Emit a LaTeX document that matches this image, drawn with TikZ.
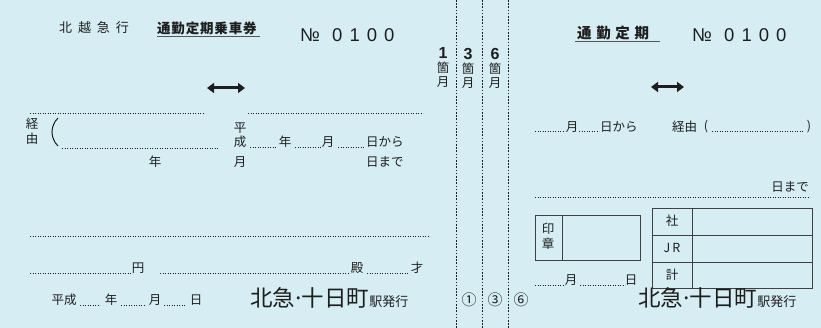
\documentclass[tikz,border=0pt]{standalone}
\usepackage{fontspec}
\setmainfont{Noto Sans CJK JP}
\newfontfamily\numfont{Liberation Sans}
\usetikzlibrary{arrows.meta}
\definecolor{ticketblue}{RGB}{213,237,243}
\definecolor{ink}{RGB}{30,30,30}
\tikzset{
  lbl/.style={inner sep=0pt, text=ink, font=\fontsize{12.5}{14}\selectfont},
  dotline/.style={ink, line width=0.8pt, dash pattern=on 0.8pt off 1.7pt},
  perf/.style={ink, line width=0.6pt, dash pattern=on 1.6pt off 1.6pt},
  frame/.style={ink!85, line width=0.9pt},
  bigarrow/.style={ink, line width=3pt, {Triangle[length=7pt,width=10pt]}-{Triangle[length=7pt,width=10pt]}},
  issuer/.style={inner sep=0pt, text=ink, anchor=base west},
  circnum/.style={inner sep=0pt, text=ink, font=\fontsize{15}{16}\selectfont},
}
\begin{document}
\begin{tikzpicture}[x=1pt,y=-1pt]
    \fill[ticketblue] (0,0) rectangle (821,328);
    \useasboundingbox (0,0) rectangle (821,328);

    \draw[perf] (456,0) -- (456,328);
    \draw[perf] (482,0) -- (482,328);
    \draw[perf] (508,0) -- (508,328);

    \node[lbl, font=\fontsize{13}{15}\selectfont\addfontfeature{LetterSpace=45}] (company) at (94,28) {北越急行};
    \node[lbl, anchor=west, font=\bfseries\fontsize{13.5}{15}\selectfont\addfontfeature{LetterSpace=6}] (title) at (157,28) {通勤定期乗車券};
    \draw[ink!75, line width=1pt] (157,37) -- (260,37);
    \node[lbl, anchor=west, font=\numfont\fontsize{18.5}{20}\selectfont\addfontfeature{LetterSpace=38}] (serial) at (300,35) {№ 0100};
    \draw[bigarrow] (207,88) -- (245,88);

    \node[lbl, align=center] (tab1) at (443,68) {{\numfont\bfseries\fontsize{16}{13}\selectfont 1}\\箇\\月};
    \node[lbl, align=center] (tab3) at (468,68) {{\numfont\bfseries\fontsize{16}{13}\selectfont 3}\\箇\\月};
    \node[lbl, align=center] (tab6) at (495,68) {{\numfont\bfseries\fontsize{16}{13}\selectfont 6}\\箇\\月};

    \draw[dotline] (30,113) -- (205,113);
    \draw[dotline] (248,113) -- (423,113);
    \node[lbl, align=center, font=\fontsize{12.5}{15}\selectfont] (via) at (32,131) {経\\由};
    \draw[ink, line width=1pt] (58,118) .. controls (50,126) and (50,138) .. (58,146);
    \draw[dotline] (62,148) -- (218,148);
    \node[lbl] (year1) at (155,162) {年};
    \node[lbl] (hei1) at (240,128) {平};
    \node[lbl] (sei1) at (240,142) {成};
    \node[lbl] (mon1) at (240,162) {月};
    \draw[dotline] (250,147) -- (277,147);
    \node[lbl] (year2) at (285,142) {年};
    \draw[dotline] (295,147) -- (321,147);
    \node[lbl] (mon2) at (328,142) {月};
    \draw[dotline] (338,147) -- (364,147);
    \node[lbl, anchor=west] (from1) at (366,142) {日から};
    \node[lbl, anchor=west] (until1) at (366,162) {日まで};

    \draw[dotline] (30,236) -- (430,236);
    \draw[dotline] (30,273) -- (131,273);
    \node[lbl] (yen) at (138,268) {円};
    \draw[dotline] (160,273) -- (350,273);
    \node[lbl] (dono) at (357,268) {殿};
    \draw[dotline] (367,273) -- (409,273);
    \node[lbl] (age) at (417,268) {才};

    \node[lbl] (heisei) at (64,300) {平成};
    \draw[dotline] (80,305) -- (100,305);
    \node[lbl] (year3) at (111,300) {年};
    \draw[dotline] (121,305) -- (144,305);
    \node[lbl] (mon3) at (155,300) {月};
    \draw[dotline] (164,305) -- (185,305);
    \node[lbl] (day3) at (196,300) {日};
    \node[issuer] (station1) at (250,307) {{\fontsize{22.5}{22}\selectfont 北急\kern-3pt·\kern-3pt十日町}{\fontsize{13}{13}\selectfont 駅発行}};

    \node[circnum] (c1) at (469,300) {①};
    \node[circnum] (c3) at (495,300) {③};
    \node[circnum] (c6) at (521,300) {⑥};

    \node[lbl, anchor=west, font=\bfseries\fontsize{14.5}{16}\selectfont\addfontfeature{LetterSpace=32}] (title2) at (577,33) {通勤定期};
    \draw[ink!75, line width=1pt] (575,42) -- (660,42);
    \node[lbl, anchor=west, font=\numfont\fontsize{18.5}{20}\selectfont\addfontfeature{LetterSpace=38}] (serial2) at (692,35) {№ 0100};
    \draw[bigarrow] (651,87) -- (684,87);

    \draw[dotline] (535,131) -- (565,131);
    \node[lbl] (mon4) at (572,127) {月};
    \draw[dotline] (579,131) -- (599,131);
    \node[lbl, anchor=west] (from2) at (600,127) {日から};
    \node[lbl, anchor=west] (via2) at (672,127) {経由};
    \node[lbl] (open2) at (706,127) {(};
    \draw[dotline] (712,131) -- (803,131);
    \node[lbl] (close2) at (809,127) {)};
    \node[lbl, anchor=east] (until2) at (809,187) {日まで};
    \draw[dotline] (535,197) -- (810,197);

    \draw[frame] (535,215) rectangle (640,260);
    \draw[frame] (562,215) -- (562,260);
    \node[lbl, align=center, font=\fontsize{12.5}{15}\selectfont] (seal) at (548,236) {印\\章};

    \draw[frame] (652,208) rectangle (812,288);
    \draw[frame] (692,208) -- (692,288);
    \draw[frame] (652,235) -- (812,235);
    \draw[frame] (652,262) -- (812,262);
    \node[lbl] (company2) at (672,221) {社};
    \node[lbl] (jr) at (672,248) {J\,R};
    \node[lbl] (total) at (672,275) {計};

    \draw[dotline] (535,285) -- (565,285);
    \node[lbl] (mon5) at (571,280) {月};
    \draw[dotline] (580,285) -- (625,285);
    \node[lbl] (day5) at (631,280) {日};
    \node[issuer] (station2) at (638,307) {{\fontsize{22.5}{22}\selectfont 北急\kern-3pt·\kern-3pt十日町}{\fontsize{13}{13}\selectfont 駅発行}};
\end{tikzpicture}
\end{document}
